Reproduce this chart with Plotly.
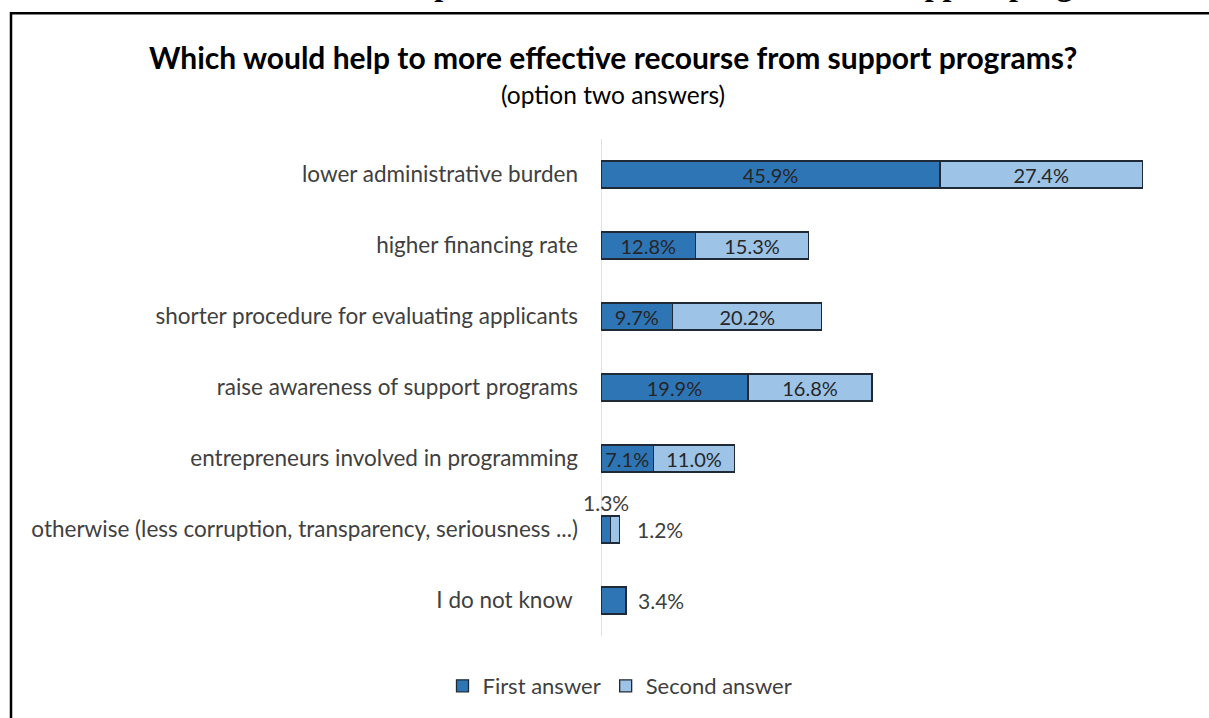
import plotly.graph_objects as go

categories = [
    "lower administrative burden",
    "higher financing rate",
    "shorter procedure for evaluating applicants",
    "raise awareness of support programs",
    "entrepreneurs involved in programming",
    "otherwise (less corruption, transparency, seriousness ...)",
    "I do not know ",
]
first_answer = [45.9, 12.8, 9.7, 19.9, 7.1, 1.3, 3.4]
second_answer = [27.4, 15.3, 20.2, 16.8, 11.0, 1.2, None]

W, H = 1209, 718
ML, MR, MT, MB = 601, 29, 139, 81
XMAX = 78.4
FONT = "Lato"
TXT = "#404040"
C1, C2 = "#2E75B6", "#9DC3E6"
OUTLINE = "#1F2A36"

def inside(v):
    return v is not None and v >= 5

fig = go.Figure()
fig.add_trace(go.Bar(
    y=categories, x=first_answer, orientation="h", name="First answer",
    marker=dict(color=C1, line=dict(color=OUTLINE, width=1.3)),
    text=[f"{v:.1f}%" if inside(v) else "" for v in first_answer],
    textposition="inside", insidetextanchor="middle", constraintext="none",
    textfont=dict(family=FONT, size=20, color="#262626"),
    width=0.38,
))
fig.add_trace(go.Bar(
    y=categories, x=[v if v is not None else 0 for v in second_answer],
    orientation="h", name="Second answer",
    marker=dict(color=C2, line=dict(color=OUTLINE, width=1.3)),
    text=[f"{v:.1f}%" if inside(v) else "" for v in second_answer],
    textposition="inside", insidetextanchor="middle", constraintext="none",
    textfont=dict(family=FONT, size=20, color="#262626"),
    width=0.38,
))

# small value labels outside the bars
ann = []
for i, cat in enumerate(categories):
    f, s = first_answer[i], second_answer[i]
    if not inside(f) and s is not None and not inside(s):
        ann.append(dict(x=f / 2, y=cat, xref="x", yref="y", text=f"{f:.1f}%",
                        showarrow=False, xanchor="center", yshift=27,
                        font=dict(family=FONT, size=21, color=TXT)))
        ann.append(dict(x=f + s, y=cat, xref="x", yref="y", text=f"{s:.1f}%",
                        showarrow=False, xanchor="left", xshift=16,
                        font=dict(family=FONT, size=21, color=TXT)))
    elif not inside(f) and s is None:
        ann.append(dict(x=f, y=cat, xref="x", yref="y", text=f"{f:.1f}%",
                        showarrow=False, xanchor="left", xshift=10,
                        font=dict(family=FONT, size=21, color=TXT)))

pw = W - ML - MR
ph = H - MT - MB
def px_x(x):
    return (x - ML) / pw
def px_y(y):
    return 1 - (y - MT) / ph

ann.append(dict(xref="paper", yref="paper", x=px_x(613), y=px_y(57),
                xanchor="center", yanchor="middle",
                text="<b>Which would help to more effective recourse from support programs?</b>",
                showarrow=False, font=dict(family=FONT, size=30, color="#000000")))
ann.append(dict(xref="paper", yref="paper", x=px_x(613), y=px_y(94),
                xanchor="center", yanchor="middle",
                text="(option two answers)", showarrow=False,
                font=dict(family=FONT, size=24.5, color="#000000")))
# cropped page heading above the frame
ann.append(dict(xref="paper", yref="paper", x=px_x(201), y=px_y(-16), xanchor="left",
                yanchor="middle",
                text="<b>Which would help to more effective recourse from support programs?</b>",
                showarrow=False, font=dict(family="Liberation Serif", size=32, color="#000000")))

fig.update_layout(
    width=W, height=H,
    margin=dict(l=ML, r=MR, t=MT, b=MB),
    paper_bgcolor="white", plot_bgcolor="white",
    barmode="stack", bargap=0.62,
    showlegend=True,
    legend=dict(orientation="h", x=px_x(620), xanchor="center", y=px_y(686), yanchor="middle",
                font=dict(family=FONT, size=22, color=TXT), traceorder="normal",
                itemwidth=30),
    annotations=ann,
    shapes=[
        dict(type="rect", xref="paper", yref="paper",
             x0=px_x(11), x1=px_x(1240), y0=px_y(13), y1=px_y(760),
             line=dict(color="black", width=2.5), fillcolor="rgba(0,0,0,0)", layer="above"),
        dict(type="line", xref="x", yref="paper", x0=0, x1=0, y0=0, y1=1,
             line=dict(color="#D9D9D9", width=1.5), layer="below"),
    ],
    xaxis=dict(range=[0, XMAX], showgrid=False, zeroline=False, showticklabels=False,
               showline=False, fixedrange=True),
    yaxis=dict(autorange="reversed", showgrid=False, zeroline=False, showline=False,
               ticks="", ticklabelstandoff=22,
               tickfont=dict(family=FONT, size=22.5, color=TXT)),
    font=dict(family=FONT),
)

fig.write_html("out.html", config={"displayModeBar": False},
               post_script="document.body.style.margin='0';document.body.style.overflow='hidden';")
